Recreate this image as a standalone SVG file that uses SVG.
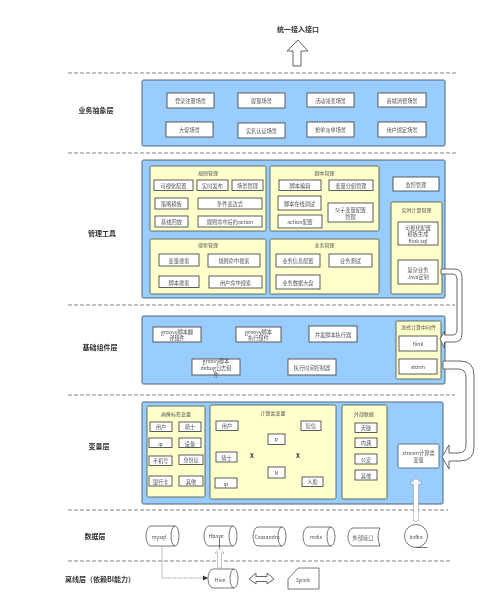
<svg xmlns="http://www.w3.org/2000/svg" width="500" height="615" viewBox="0 0 500 615">
<style>
text{font-family:"Noto Sans CJK SC","Liberation Sans",sans-serif;font-size:5.2px;fill:#505050;text-anchor:middle;dominant-baseline:central}
.h{font-size:7px;font-weight:700;fill:#333}
.s{font-size:5px;fill:#555}
.blue{fill:#99ccff;stroke:#4d6478;stroke-width:1}
.yel{fill:#ffffcc;stroke:#55604f;stroke-width:.9}
.box{fill:#fff;stroke:#4a4a4a;stroke-width:.9}
.dash{fill:none;stroke:#666;stroke-width:.8;stroke-dasharray:4 2}
.shape{fill:#fff;stroke:#555;stroke-width:.8}
.block{fill:#fff;stroke:#555;stroke-width:.9}
.dot{fill:#fff;stroke:#777;stroke-width:.7;stroke-dasharray:1 .7}
</style>
<defs>
<marker id="tip" markerWidth="6" markerHeight="6" refX="5" refY="3" orient="auto" markerUnits="userSpaceOnUse"><path d="M0 .5L5 3L0 5.5Z" fill="#333"/></marker>
<filter id="soft" x="0" y="0" width="100%" height="100%"><feGaussianBlur stdDeviation="0.5"/></filter>
</defs>
<g filter="url(#soft)">
<rect width="500" height="615" fill="#fff"/>
<g id="separators">
<path class="dash" d="M68 73H457M68 153H457M68 305H455M68 395H455M68 510H448M68 561H451"/>
</g>
<g id="labels">
<text class="h" x="298" y="29">统一接入接口</text>
<text class="h" x="96" y="110">业务抽象层</text>
<text class="h" x="102" y="233">管理工具</text>
<text class="h" x="100" y="347">基础组件层</text>
<text class="h" x="99" y="446">变量层</text>
<text class="h" x="95" y="536">数据层</text>
<text class="h" x="100" y="579">离线层（依赖BI能力）</text>
</g>
<g id="layer-business">
<rect class="blue" x="142" y="80" width="303" height="66" rx="1.5"/>
</g>
<g id="n1"><rect class="box" x="167" y="93" width="47" height="15"/><text x="190.500" y="100.500">登录注册场景</text></g>
<g id="n2"><rect class="box" x="238" y="93" width="47" height="15"/><text x="261.500" y="100.500">提现场景</text></g>
<g id="n3"><rect class="box" x="307" y="93" width="47" height="14"/><text x="330.500" y="100">活动领奖场景</text></g>
<g id="n4"><rect class="box" x="378" y="93" width="48" height="14"/><text x="402" y="100">商城消费场景</text></g>
<g id="n5"><rect class="box" x="166" y="122" width="47" height="15"/><text x="189.500" y="129.500">大促场景</text></g>
<g id="n6"><rect class="box" x="238" y="123" width="47" height="15"/><text x="261.500" y="130.500">实名认证场景</text></g>
<g id="n7"><rect class="box" x="307" y="122" width="47" height="15"/><text x="330.500" y="129.500">抢单派单场景</text></g>
<g id="n8"><rect class="box" x="378" y="122" width="48" height="15"/><text x="402" y="129.500">用户绑定场景</text></g>

<g id="layer-manage"><rect class="blue" x="142" y="160" width="303" height="138" rx="1.5"/></g>
<g id="g-rule"><rect class="yel" x="150" y="166" width="116" height="65" rx="1.500"/><text class="s" x="208" y="172">规则管理</text></g>
<g id="g-script"><rect class="yel" x="270" y="166" width="109" height="65" rx="1.500"/><text class="s" x="324.500" y="172">脚本管理</text></g>
<g id="g-search"><rect class="yel" x="150" y="239" width="116" height="55" rx="1.500"/><text class="s" x="208" y="244">搜索管理</text></g>
<g id="g-biz"><rect class="yel" x="270" y="239" width="109" height="55" rx="1.500"/><text class="s" x="324.500" y="244">业务管理</text></g>
<g id="g-rt"><rect class="yel" x="391" y="202" width="51" height="92" rx="1.500"/><text class="s" x="416.500" y="209">实时计算管理</text></g>
<g id="m1"><rect class="box" x="154" y="180" width="39" height="10.500"/><text x="173.500" y="185.500">可视化配置</text></g>
<g id="m2"><rect class="box" x="197" y="180" width="31" height="10.500"/><text x="212.500" y="185.500">实时发布</text></g>
<g id="m3"><rect class="box" x="232" y="180" width="31" height="10.500"/><text x="247.500" y="185.500">场景管理</text></g>
<g id="m4"><rect class="box" x="155" y="198" width="33" height="11"/><text x="171.500" y="203.500">策略模板</text></g>
<g id="m5"><rect class="box" x="198" y="198" width="64" height="11"/><text x="230" y="203.500">条件表达式</text></g>
<g id="m6"><rect class="box" x="155" y="216" width="33" height="11"/><text x="171.500" y="221.500">基线回放</text></g>
<g id="m7"><rect class="box" x="198" y="216" width="64" height="11"/><text x="230" y="221.500">规则命中后的action</text></g>
<g id="m8"><rect class="box" x="279" y="180" width="42" height="10.500"/><text x="300" y="185.500">脚本编辑</text></g>
<g id="m9"><rect class="box" x="329" y="180" width="44" height="10.500"/><text x="351" y="185.500">变量分组管理</text></g>
<g id="m10"><rect class="box" x="278" y="196" width="43" height="14"/><text x="299.500" y="203">脚本在线调试</text></g>
<g id="m11"><rect class="box" x="278" y="215" width="44" height="13"/><text x="300" y="221.500">action配置</text></g>
<g id="m12"><rect class="box" x="328" y="203" width="45" height="19"/><text x="350.500" y="209">父子变量配置</text><text x="350.500" y="216">管理</text></g>
<g id="m13"><rect class="box" x="159" y="254" width="40" height="12"/><text x="179" y="260">变量搜索</text></g>
<g id="m14"><rect class="box" x="208" y="254" width="52" height="13"/><text x="234" y="260.500">规则命中搜索</text></g>
<g id="m15"><rect class="box" x="159" y="276" width="40" height="11.500"/><text x="179" y="282">脚本搜索</text></g>
<g id="m16"><rect class="box" x="209" y="276" width="53" height="12"/><text x="235.500" y="282">用户命中搜索</text></g>
<g id="m17"><rect class="box" x="276" y="254" width="44" height="13"/><text x="298" y="260.500">业务信息配置</text></g>
<g id="m18"><rect class="box" x="329" y="254" width="43" height="13"/><text x="350.500" y="260.500">业务测试</text></g>
<g id="m19"><rect class="box" x="276" y="275" width="44" height="14"/><text x="298" y="282">业务数据大盘</text></g>
<g id="m20"><rect class="box" x="393" y="177" width="46" height="14"/><text x="416" y="184">监控管理</text></g>
<g id="m21"><rect class="box" x="398" y="222" width="40" height="23"/><text x="418" y="227">可视化配置</text><text x="418" y="233.500">模板生成</text><text x="418" y="240">flink sql</text></g>
<g id="m22"><rect class="box" x="398" y="260" width="40" height="24"/><text x="418" y="269">复杂业务</text><text x="418" y="276">Java定制</text></g>

<g id="layer-base"><rect class="blue" x="142" y="316" width="303" height="68" rx="1.500"/></g>
<g id="b1"><rect class="box" x="153" y="327" width="48" height="15"/><text x="177" y="331">groovy脚本翻</text><text x="177" y="337.500">译组件</text></g>
<g id="b2"><rect class="box" x="236" y="327" width="45" height="15"/><text x="258.500" y="331">groovy脚本</text><text x="258.500" y="337.500">执行组件</text></g>
<g id="b3"><rect class="box" x="309" y="326" width="48" height="16"/><text x="333" y="334">并发脚本执行器</text></g>
<g id="b4"><rect class="box" x="192" y="359" width="48" height="16"/><text x="216" y="360">groovy脚本</text><text x="216" y="367">debug日志组</text><text x="216" y="374">件</text></g>
<g id="b5"><rect class="box" x="288" y="359" width="48" height="16"/><text x="312" y="367">执行时间控制器</text></g>
<g id="g-stream"><rect class="yel" x="396" y="321" width="45" height="58" rx="1.500"/><text class="s" x="418.500" y="326">流式计算中间件</text></g>
<g id="b6"><rect class="box" x="399" y="336" width="38" height="15"/><text x="418" y="343.500">flink</text></g>
<g id="b7"><rect class="box" x="399" y="359" width="38" height="15"/><text x="418" y="366.500">storm</text></g>

<g id="layer-var"><rect class="blue" x="142" y="402" width="301" height="102" rx="1.500"/></g>
<g id="g-tag"><rect class="yel" x="147" y="406" width="58" height="91" rx="1.500"/><text class="s" x="176" y="413">画像标签变量</text></g>
<g id="g-calc"><rect class="yel" x="210" y="405" width="126" height="94" rx="1.500"/><text class="s" x="273" y="412">计算类变量</text></g>
<g id="g-ext"><rect class="yel" x="342" y="405" width="45" height="94" rx="1.500"/><text class="s" x="364" y="413">外部数据</text></g>
<g id="v1"><rect class="box" x="150" y="422" width="22" height="9.500"/><text x="161" y="426.500">用户</text></g>
<g id="v2"><rect class="box" x="179" y="422" width="22" height="9.500"/><text x="190" y="426.500">骑士</text></g>
<g id="v3"><rect class="box" x="149" y="438" width="23" height="9.500"/><text x="160.500" y="443">ip</text></g>
<g id="v4"><rect class="box" x="179" y="438" width="22" height="9.500"/><text x="190" y="443">设备</text></g>
<g id="v5"><rect class="box" x="149" y="456" width="23" height="9.500"/><text x="160.500" y="460.500">手机号</text></g>
<g id="v6"><rect class="box" x="179" y="455" width="24" height="9.500"/><text x="191" y="459.500">身份证</text></g>
<g id="v7"><rect class="box" x="149" y="476" width="23" height="10"/><text x="160.500" y="481">银行卡</text></g>
<g id="v8"><rect class="box" x="179" y="476" width="24" height="10"/><text x="191" y="481">其他</text></g>
<g id="c1"><rect class="box" x="216" y="421" width="22" height="9.500"/><text x="227" y="425.500">用户</text></g>
<g id="c2"><rect class="box" x="301" y="421" width="20" height="9.500"/><text x="311" y="425.500">短信</text></g>
<g id="c3"><rect class="box" x="268" y="434" width="17" height="10.500"/><text x="276.500" y="439">P</text></g>
<g id="c4"><rect class="box" x="216" y="452" width="21" height="10"/><text x="226.500" y="457">骑士</text></g>
<g id="c5"><rect class="box" x="268" y="467" width="17" height="11"/><text x="276.500" y="472.500">N</text></g>
<g id="c6"><rect class="box" x="215" y="478" width="22" height="10"/><text x="226" y="483">ip</text></g>
<g id="c7"><rect class="box" x="302" y="477" width="21" height="9.500"/><text x="312.500" y="481.500">人脸</text></g>
<text class="h" x="252" y="455" style="font-size:6px">X</text>
<text class="h" x="298" y="455" style="font-size:6px">X</text>
<g id="e1"><rect class="box" x="355" y="423" width="22" height="9.500"/><text x="366" y="427.500">天御</text></g>
<g id="e2"><rect class="box" x="355" y="438" width="22" height="9.500"/><text x="366" y="442.500">内涵</text></g>
<g id="e3"><rect class="box" x="355" y="454" width="22" height="10"/><text x="366" y="459">公安</text></g>
<g id="e4"><rect class="box" x="355" y="470" width="22" height="10"/><text x="366" y="475">其他</text></g>
<g id="e5"><rect x="398" y="444" width="41" height="24" rx="1.500" style="fill:#fff;stroke:#4d6478;stroke-width:.9"/><text x="418.500" y="452.500">stream计算类</text><text x="418.500" y="459.500">变量</text></g>

<g id="mysql"><path class="shape" d="M151 526H175A4 10 0 0 1 175 546H151A5 10 0 0 1 151 526ZM175 526A4 10 0 0 0 175 546"/><text x="159" y="536">mysql</text></g>
<g id="hbase"><path class="shape" d="M209 526H233A4 10 0 0 1 233 546H209A5 10 0 0 1 209 526ZM233 526A4 10 0 0 0 233 546"/><text x="216" y="535.500">Hbase</text></g>
<g id="cassandra"><path class="shape" d="M258 527H282A4 9.500 0 0 1 282 546H258A5 9.500 0 0 1 258 527ZM282 527A4 9.500 0 0 0 282 546"/><text x="267" y="536.500">Cassandra</text></g>
<g id="redis"><path class="shape" d="M308 527H331A4 9.500 0 0 1 331 546H308A5 9.500 0 0 1 308 527ZM331 527A4 9.500 0 0 0 331 546"/><text x="316" y="536.500">redis</text></g>
<g id="ext-api"><path class="shape" d="M353 528H380Q376 537 380 546H353A5 9 0 0 1 353 528Z"/><text x="363" y="537">外部接口</text></g>
<g id="kafka"><path class="shape" d="M416 547.500A11.500 11.500 0 0 1 416 524.500A11.500 11.500 0 0 1 416 547.500H427.500"/><text x="416" y="536">kafka</text></g>
<g id="hive"><path class="shape" d="M213 569H234A4 9.500 0 0 1 234 588H213A5 9.500 0 0 1 213 569ZM234 569A4 9.500 0 0 0 234 588"/><text x="220" y="579">Hive</text></g>
<g id="spark"><path class="shape" d="M298 568H319V589H288V579Z"/><text x="303" y="579">Spark</text></g>

<g id="connectors">
<path class="block" d="M298 40L308 51H301V66H293V51H287Z"/>
<path class="block" d="M441 269H454Q462 269 462 277V334Q462 342 454 342H444.500V348L440 339L444.500 331V335H452Q457 335 457 330V279Q457 274 452 274H441Z"/>
<path class="block" d="M443 361H460Q474 361 474 375V447Q474 461 460 461H449V469L442 457L449 445V453H458Q466 453 466 445V377Q466 369 458 369H443Z"/>
<path class="dot" d="M416 478L422 484H418.500V521H413.500V484H410Z"/>
<path class="dot" d="M219.500 548L224 553H221.500V568H217.500V553H215Z"/>
<path d="M219.500 538V548" fill="none" stroke="#333" stroke-width=".7"/>
<path d="M162 546V578H208" fill="none" stroke="#777" stroke-width=".8" stroke-dasharray="1 .8" marker-end="url(#tip)"/>
<path class="block" d="M249 579L256 573V576.500H267V573L274 579L267 584V581.500H256V584Z"/>
</g>
</g>
</svg>
